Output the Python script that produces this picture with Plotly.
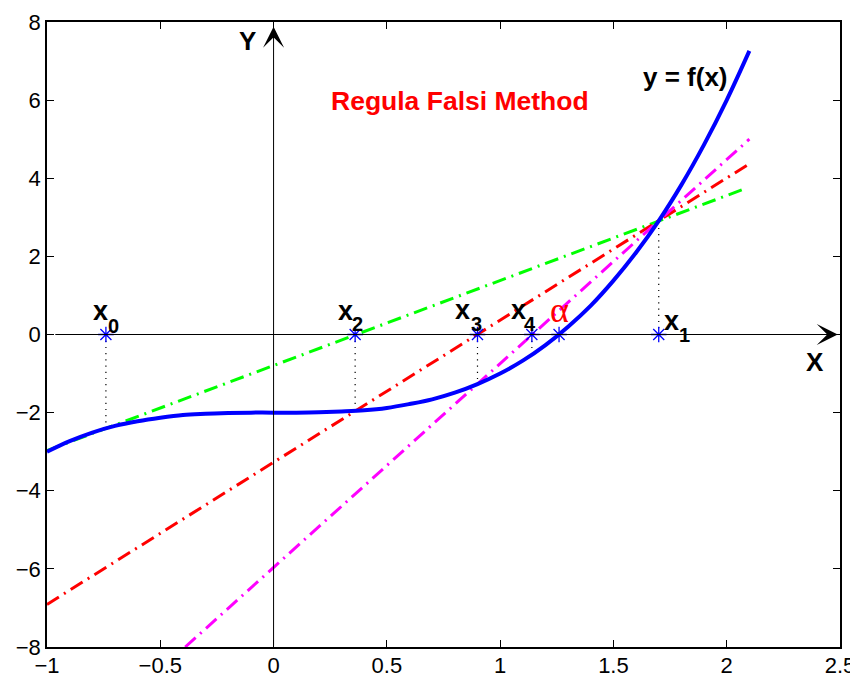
import plotly.graph_objects as go

# ---- data ----
curve_x = [-1.0, -0.9, -0.8, -0.7, -0.6, -0.5, -0.4, -0.3, -0.2, -0.1, 0.0,
           0.1, 0.2, 0.3, 0.4, 0.5, 0.6, 0.7, 0.8, 0.9, 1.0,
           1.1, 1.2, 1.3, 1.4, 1.5, 1.6, 1.7, 1.8, 1.9, 2.0, 2.1]
curve_y = [-3.00, -2.73, -2.51, -2.34, -2.22, -2.13, -2.06, -2.03, -2.01, -2.00, -2.00,
           -2.00, -1.99, -1.97, -1.94, -1.88, -1.78, -1.66, -1.49, -1.27, -1.00,
           -0.67, -0.27, 0.20, 0.74, 1.38, 2.10, 2.91, 3.83, 4.86, 6.00, 7.26]

iter_names = ["0", "2", "3", "4", "1"]
iter_x = [-0.74, 0.36, 0.90, 1.14, 1.70]
iter_fx = [-2.41, -1.95, -1.27, -0.51, 2.91]
alpha_x = 1.26

green_x = [-1.0, 2.07]
green_y = [-2.97, 3.71]
red_x = [-1.0, 2.1]
red_y = [-6.91, 4.37]
magenta_x = [-0.39, 2.1]
magenta_y = [-8.0, 5.0]

x_ticks = [-1, -0.5, 0, 0.5, 1, 1.5, 2, 2.5]
y_ticks = [-8, -6, -4, -2, 0, 2, 4, 6, 8]

FONT = "Liberation Sans, Arial, sans-serif"
DASHDOT = "14px,6px,2px,6px"

fig = go.Figure()

# dotted drop lines
dx, dy = [], []
for xv, fv in zip(iter_x, iter_fx):
    dx += [xv, xv, None]
    dy += [0, fv, None]
fig.add_trace(go.Scatter(x=dx, y=dy, mode="lines",
                         line=dict(color="black", width=1.2, dash="1.2px,5px"),
                         hoverinfo="skip"))

# secant chords
fig.add_trace(go.Scatter(x=green_x, y=green_y, mode="lines",
                         line=dict(color="#00ff00", width=3, dash=DASHDOT)))
fig.add_trace(go.Scatter(x=red_x, y=red_y, mode="lines",
                         line=dict(color="#ff0000", width=3, dash=DASHDOT)))
fig.add_trace(go.Scatter(x=magenta_x, y=magenta_y, mode="lines",
                         line=dict(color="#ff00ff", width=3, dash=DASHDOT)))

# curve
fig.add_trace(go.Scatter(x=curve_x, y=curve_y, mode="lines", line_shape="spline",
                         line=dict(color="#0000ff", width=4)))

# star markers
fig.add_trace(go.Scatter(x=iter_x + [alpha_x], y=[0] * (len(iter_x) + 1), mode="markers",
                         marker=dict(symbol="asterisk-open", size=13, color="#0000ff",
                                     line=dict(color="#0000ff", width=1.3))))

ann = []
# axis arrows
ann.append(dict(x=2.49, y=0, ax=-0.97, ay=0, xref="x", yref="y", axref="x", ayref="y",
                showarrow=True, arrowhead=3, arrowsize=3.5, arrowwidth=1,
                arrowcolor="black", standoff=0, text=""))
ann.append(dict(x=0, y=7.88, ax=0, ay=-8, xref="x", yref="y", axref="x", ayref="y",
                showarrow=True, arrowhead=3, arrowsize=3.5, arrowwidth=1,
                arrowcolor="black", standoff=0, text=""))

def txt(x, y, s, size=26, color="black", bold=True, family=FONT):
    ann.append(dict(x=x, y=y, xref="x", yref="y", text=("<b>%s</b>" % s) if bold else s,
                    showarrow=False, xanchor="center", yanchor="middle",
                    font=dict(family=family, size=size, color=color)))

txt(-0.113, 7.51, "Y")
txt(2.39, -0.70, "X")
txt(0.821, 5.98, "Regula Falsi Method", size=26.5, color="#ff0000")
txt(1.816, 6.60, "y = f(x)", size=26)

label_pos = {
    "0": ((-0.766, 0.60), (-0.708, 0.22)),
    "2": ((0.317, 0.60), (0.372, 0.28)),
    "3": ((0.836, 0.64), (0.896, 0.28)),
    "4": ((1.079, 0.64), (1.133, 0.26)),
    "1": ((1.758, 0.34), (1.814, 0.00)),
}
for name in iter_names:
    (mx, my), (sx, sy) = label_pos[name]
    txt(mx, my, "x", size=27)
    txt(sx, sy, name, size=20)
txt(1.262, 0.64, "α", size=36, color="#ff0000", bold=False,
    family="Liberation Serif, DejaVu Serif, serif")

axis_common = dict(showgrid=False, zeroline=False, showline=True, linecolor="black",
                   linewidth=1.5, mirror="ticks", ticks="inside", ticklen=7,
                   tickwidth=1.2, tickcolor="black", automargin=False,
                   ticklabeloverflow="allow",
                   tickfont=dict(family=FONT, size=22, color="black"))

# page body has an 8px margin, so the figure is sized to fit inside the window
fig.update_layout(
    width=850, height=665,
    margin=dict(l=39, r=18, t=14, b=26, autoexpand=False),
    paper_bgcolor="white", plot_bgcolor="white",
    showlegend=False,
    xaxis=dict(range=[-1, 2.5], tickvals=x_ticks, ticklabelstandoff=-2, **axis_common),
    yaxis=dict(range=[-8, 8], tickvals=y_ticks, **axis_common),
    annotations=ann,
)

fig.write_html("out.html")
